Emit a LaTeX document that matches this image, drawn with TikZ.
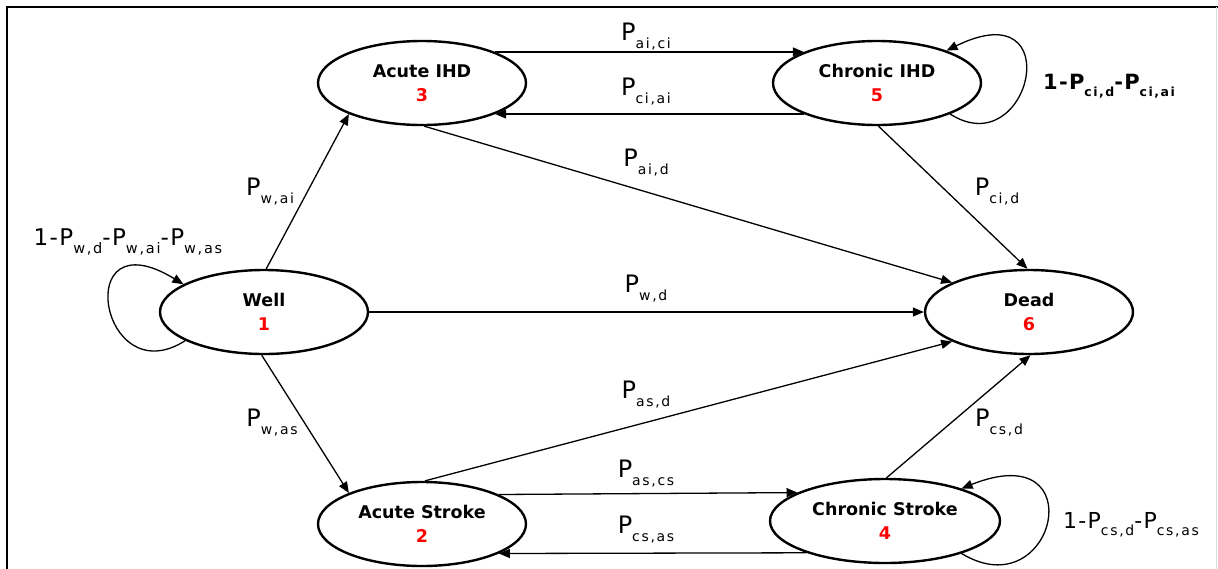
\documentclass[tikz,border=0pt]{standalone}
\usepackage{fontspec}
\setmainfont{DejaVu Sans}
\newfontfamily\lblfont[LetterSpace=6]{DejaVu Sans}
\newfontfamily\subfont[LetterSpace=12]{DejaVu Sans}
\usetikzlibrary{shapes.geometric,arrows.meta}

% transition probability: P with a lowered, smaller subscript
\newcommand{\Ptr}[2][14pt]{P\raisebox{-0.33em}{\subfont\fontsize{#1}{#1}\selectfont #2}}

\begin{document}
\begin{tikzpicture}[x=1pt,y=-1pt,
  state/.style={ellipse,draw,line width=2.4pt,minimum width=208pt,minimum height=84pt,
    inner sep=0pt,align=center,font=\bfseries\fontsize{17.5pt}{24pt}\selectfont},
  conn/.style={line width=1.3pt,-{Triangle[length=11pt,width=9pt]}},
  elbl/.style={inner sep=0pt,font=\lblfont\fontsize{24pt}{24pt}\selectfont},
  loopl/.style={inner sep=0pt,font=\lblfont\fontsize{23pt}{23pt}\selectfont}]
\useasboundingbox (0,0) rectangle (1218,568);

% frame
\draw[line width=2.5pt] (7,570) -- (7,7) -- (1220,7);
\draw[gray!25,line width=1pt] (1216.5,7) -- (1216.5,570);

% states
\node[state] (aihd) at (422,83)  {Acute IHD\\\textcolor{red}{3}};
\node[state] (cihd) at (877,83)  {Chronic IHD\\\textcolor{red}{5}};
\node[state] (well) at (264,312) {Well\\\textcolor{red}{1}};
\node[state] (dead) at (1029,312) {Dead\\\textcolor{red}{6}};
\node[state] (as)   at (422,524) {Acute Stroke\\\textcolor{red}{2}};
\node[state,minimum width=230pt] (cs) at (885,521) {Chronic Stroke\\\textcolor{red}{4}};

% transitions
\draw[conn] (aihd.23)  -- (cihd.157);
\draw[conn] (cihd.203) -- (aihd.337);
\draw[conn] (well.87)  -- (aihd.203);
\draw[conn] (well.east) -- (dead.west);
\draw[conn] (well.267) -- (as.157);
\draw[conn] (aihd.273) -- (dead.159);
\draw[conn] (cihd.272) -- (dead.92);
\draw[conn] (as.86)    -- (dead.201);
\draw[conn] (cs.88)    -- (dead.272);
\draw[conn] (as.21)    -- (cs.162);
\draw[conn] (cs.202)   -- (as.339);

% staying in the same state
\draw[conn] (well.200) .. controls (100,395) and (70,215) .. (well.161);
\draw[conn] (cihd.337) .. controls (1030,165) and (1070,-10) .. (cihd.25);
\draw[conn] (cs.337) .. controls (1055,610) and (1095,435) .. (cs.23);

% probabilities
\node[elbl] (lai) at (646,37)  {\Ptr{ai,ci}};
\node[elbl] (lci) at (646,92)  {\Ptr{ci,ai}};
\node[elbl] (laid) at (646,163) {\Ptr{ai,d}};
\node[elbl] (lcid) at (997,192) {\Ptr{ci,d}};
\node[elbl] (lwai) at (270,192) {\Ptr{w,ai}};
\node[elbl] (lwd) at (646,289)  {\Ptr{w,d}};
\node[elbl] (lwas) at (272,423) {\Ptr{w,as}};
\node[elbl] (lasd) at (646,395) {\Ptr{as,d}};
\node[elbl] (lcsd) at (999,423) {\Ptr{cs,d}};
\node[elbl] (lascs) at (646,474) {\Ptr{as,cs}};
\node[elbl] (lcsas) at (646,530) {\Ptr{cs,as}};

\node[loopl] (lwell) at (128,242) {1-\Ptr[14.5pt]{w,d}-\Ptr[14.5pt]{w,ai}-\Ptr[14.5pt]{w,as}};
\node[loopl,font=\lblfont\bfseries\fontsize{21pt}{21pt}\selectfont] (lcihd) at (1109,86)
  {1-\Ptr[12.5pt]{\bfseries ci,d}-\Ptr[12.5pt]{\bfseries ci,ai}};
\node[loopl,font=\lblfont\fontsize{22pt}{22pt}\selectfont] (lcs) at (1131,525) {1-\Ptr{cs,d}-\Ptr{cs,as}};
\end{tikzpicture}
\end{document}
